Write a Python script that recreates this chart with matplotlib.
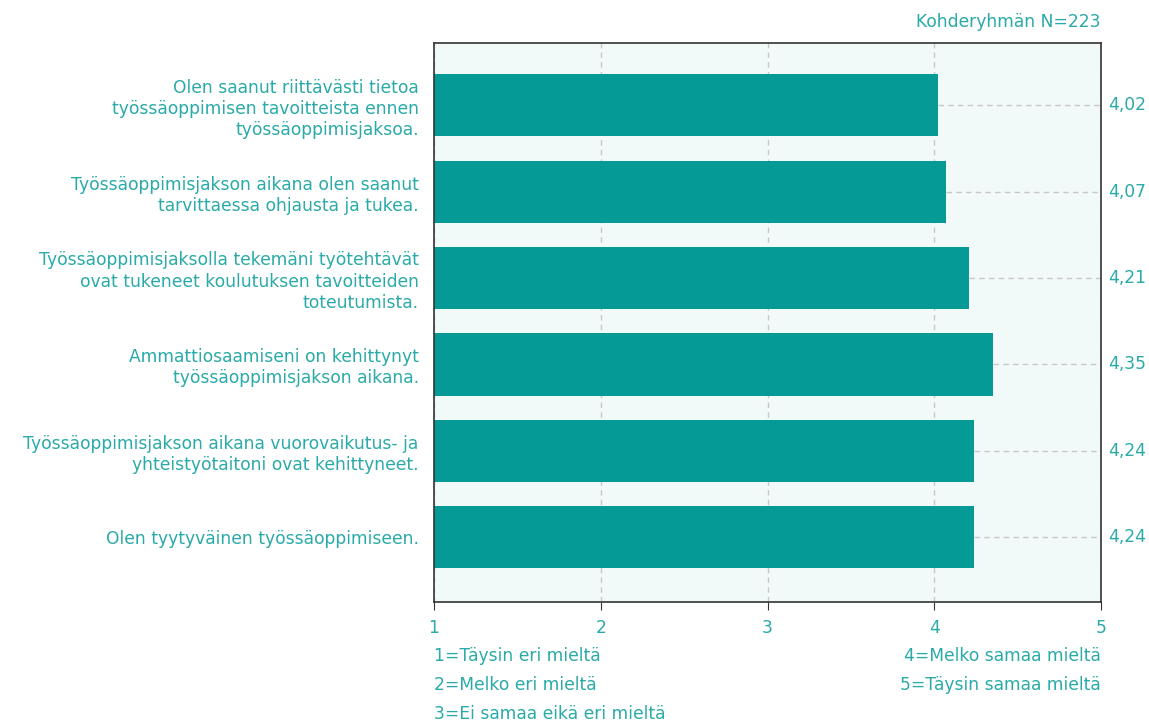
import matplotlib
matplotlib.use("Agg")
from matplotlib import pyplot as plt

statements = [
    "Olen saanut riittävästi tietoa\ntyössäoppimisen tavoitteista ennen\ntyössäoppimisjaksoa.",
    "Työssäoppimisjakson aikana olen saanut\ntarvittaessa ohjausta ja tukea.",
    "Työssäoppimisjaksolla tekemäni työtehtävät\novat tukeneet koulutuksen tavoitteiden\ntoteutumista.",
    "Ammattiosaamiseni on kehittynyt\ntyössäoppimisjakson aikana.",
    "Työssäoppimisjakson aikana vuorovaikutus- ja\nyhteistyötaitoni ovat kehittyneet.",
    "Olen tyytyväinen työssäoppimiseen.",
]
means = [4.02, 4.07, 4.21, 4.35, 4.24, 4.24]
scale_ticks = [1, 2, 3, 4, 5]
scale_left = ["1=Täysin eri mieltä", "2=Melko eri mieltä", "3=Ei samaa eikä eri mieltä"]
scale_right = ["4=Melko samaa mieltä", "5=Täysin samaa mieltä"]
n_text = "Kohderyhmän N=223"

teal = "#069a96"
txt = "#2aaaa8"
fs = 12.3
plt.rcParams['font.family'] = ['DejaVu Sans']

fig = plt.figure(figsize=(11.49, 7.22), dpi=100)
ax = fig.add_axes([434 / 1149, 1 - 602 / 722, 667 / 1149, 559 / 722])
ax.set_facecolor("#f2f9f9")

ypos = list(range(len(means)))
ax.barh(ypos, [m - 1 for m in means], left=1, height=0.72, color=teal, zorder=2)
for y, m in zip(ypos, means):
    ax.plot([m, 5], [y, y], color="#c8c8c8", ls=(0, (4, 3)), lw=1, zorder=1)
    ax.text(5.045, y, f"{m:.2f}".replace(".", ","), color=txt, fontsize=fs,
            va="center", ha="left", clip_on=False)

ax.set_xlim(1, 5)
ax.set_ylim(5.75, -0.72)
ax.set_xticks(scale_ticks)
ax.set_xticklabels([str(t) for t in scale_ticks], color=txt, fontsize=fs)
ax.tick_params(axis="x", direction="out", length=6, color="#333333", pad=6)
ax.set_yticks(ypos)
ax.set_yticklabels(statements, color=txt, fontsize=fs, ha="right", linespacing=1.22)
ax.tick_params(axis="y", length=0, pad=11)
ax.xaxis.grid(True, color="#c8c8c8", ls=(0, (4, 3)), lw=1, zorder=0)
ax.set_axisbelow(True)
for s in ax.spines.values():
    s.set_color("#333333")
    s.set_linewidth(1.2)

for i, s in enumerate(scale_left):
    ax.text(0, -0.097 - i * 0.052, s, transform=ax.transAxes, color=txt, fontsize=fs,
            ha="left", va="center")
for i, s in enumerate(scale_right):
    ax.text(1, -0.097 - i * 0.052, s, transform=ax.transAxes, color=txt,
            fontsize=fs, ha="right", va="center")
ax.text(1, 1.038, n_text, transform=ax.transAxes, color=txt, fontsize=fs,
        ha="right", va="center")

plt.savefig("out.png", dpi=100)
